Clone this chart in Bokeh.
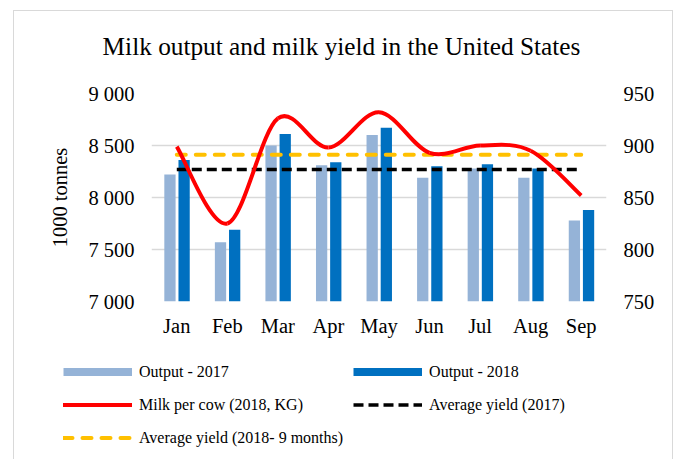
import numpy as np
from bokeh.plotting import figure
from bokeh.layouts import column
from bokeh.models import (LinearAxis, Range1d, FixedTicker, Legend, LegendItem,
                          ColumnDataSource, Label)
from bokeh.embed import file_html
from bokeh.resources import INLINE

# ---- data -------------------------------------------------------------
title_text = "Milk output and milk yield in the United States"
months = ["Jan", "Feb", "Mar", "Apr", "May", "Jun", "Jul", "Aug", "Sep"]
output_2017 = [8220, 7570, 8500, 8310, 8600, 8190, 8280, 8190, 7780]   # 1000 tonnes
output_2018 = [8360, 7690, 8610, 8340, 8670, 8300, 8320, 8280, 7880]   # 1000 tonnes
milk_per_cow_2018 = [899, 825, 926, 898, 932, 893, 900, 895, 852]      # kg
avg_yield_2017 = 877
avg_yield_2018 = 891

left_ticks = [7000, 7500, 8000, 8500, 9000]
left_tick_labels = ["7 000", "7 500", "8 000", "8 500", "9 000"]
right_ticks = [750, 800, 850, 900, 950]

FONT = "Liberation Serif"
C2017 = "#95B3D7"
C2018 = "#0070C0"
RED = "#FF0000"
YELLOW = "#FFC000"
GRID = "#D9D9D9"

W = 658
idx = np.arange(len(months), dtype=float)


def blank_panel(height):
    f = figure(width=W, height=height, output_backend="svg", toolbar_location=None,
               x_axis_type=None, y_axis_type=None, min_border=0,
               x_range=Range1d(0, 1), y_range=Range1d(0, 1))
    f.outline_line_color = None
    f.grid.grid_line_color = None
    f.frame_align = False
    return f


# ---- title panel ------------------------------------------------------
t = blank_panel(59)
t.add_layout(Label(x=327, y=24.5, x_units="screen", y_units="screen", text=title_text,
                   text_align="center", text_baseline="alphabetic",
                   text_font=FONT, text_font_size="25.3px", text_color="black"))

# ---- main chart -------------------------------------------------------
p = figure(width=W, height=276, output_backend="svg", toolbar_location=None,
           x_range=Range1d(-0.5, len(months) - 0.5),
           y_range=Range1d(left_ticks[0], left_ticks[-1]),
           min_border_left=137, min_border_right=66,
           min_border_top=23, min_border_bottom=45)
p.extra_y_ranges = {"yield": Range1d(right_ticks[0], right_ticks[-1])}
p.outline_line_color = None
p.frame_align = False

xa = p.xaxis[0]
xa.ticker = FixedTicker(ticks=list(idx))
xa.major_label_overrides = {float(i): m for i, m in zip(idx, months)}
ya = p.yaxis[0]
ya.ticker = FixedTicker(ticks=left_ticks)
ya.major_label_overrides = dict(zip(left_ticks, left_tick_labels))
ya.axis_label = "1000 tonnes"

ra = LinearAxis(y_range_name="yield", ticker=FixedTicker(ticks=right_ticks))
p.add_layout(ra, "right")

for ax in (xa, ya, ra):
    ax.axis_line_color = None
    ax.major_tick_line_color = None
    ax.minor_tick_line_color = None
    ax.major_tick_out = 0
    ax.major_tick_in = 0
    ax.major_label_text_font = FONT
    ax.major_label_text_font_size = "20.5px"
    ax.major_label_text_color = "black"
xa.major_label_standoff = 13
ya.major_label_standoff = 17
ra.major_label_standoff = 17
ya.axis_label_text_font = FONT
ya.axis_label_text_font_size = "20.5px"
ya.axis_label_text_font_style = "normal"
ya.axis_label_text_color = "black"
ya.axis_label_standoff = 14

p.xgrid.grid_line_color = None
p.ygrid.grid_line_color = GRID
p.ygrid.grid_line_width = 1.3

# bars
bw = 0.223
p.vbar(x=idx - 0.135, top=output_2017, bottom=left_ticks[0], width=bw,
       fill_color=C2017, line_color=None)
p.vbar(x=idx + 0.145, top=output_2018, bottom=left_ticks[0], width=bw,
       fill_color=C2018, line_color=None)

# average yield lines, Jan to Sep
span_x = [idx[0], idx[-1]]
BLACK_STYLE = dict(line_color="black", line_width=3.5, line_dash="10 5")
YELLOW_STYLE = dict(line_color=YELLOW, line_width=4, line_dash="9 10", line_cap="round")
p.line(x=span_x, y=[avg_yield_2017] * 2, y_range_name="yield", **BLACK_STYLE)
p.line(x=span_x, y=[avg_yield_2018] * 2, y_range_name="yield", **YELLOW_STYLE)

# smoothed milk-per-cow curve (Catmull-Rom Bezier segments)
y = np.asarray(milk_per_cow_2018, dtype=float)
xe = np.r_[idx[0], idx, idx[-1]]
ye = np.r_[y[0], y, y[-1]]
n = len(idx)
x0, x1, x2, x3 = xe[0:n - 1], xe[1:n], xe[2:n + 1], xe[3:n + 2]
y0, y1, y2, y3 = ye[0:n - 1], ye[1:n], ye[2:n + 1], ye[3:n + 2]
p.bezier(x0=x1, y0=y1, x1=x2, y1=y2,
         cx0=x1 + (x2 - x0) / 6, cy0=y1 + (y2 - y0) / 6,
         cx1=x2 - (x3 - x1) / 6, cy1=y2 - (y3 - y1) / 6,
         y_range_name="yield", line_color=RED, line_width=4)

# ---- legend panel -----------------------------------------------------
q = blank_panel(113)


def swatch(**style):
    # one off-screen point so the legend draws the swatch, nothing in the panel
    return q.line(x="x", y="y", source=ColumnDataSource(dict(x=[np.nan], y=[np.nan])), **style)


legend = Legend(items=[
    LegendItem(label="Output - 2017", renderers=[swatch(line_color=C2017, line_width=8)]),
    LegendItem(label="Output - 2018", renderers=[swatch(line_color=C2018, line_width=8)]),
    LegendItem(label="Milk per cow (2018, KG)",
               renderers=[swatch(line_color=RED, line_width=4, line_cap="round")]),
    LegendItem(label="Average yield (2017)", renderers=[swatch(**BLACK_STYLE)]),
    LegendItem(label="Average yield (2018- 9 months)", renderers=[swatch(**YELLOW_STYLE)]),
], orientation="horizontal", ncols=2, location=(49, 10))
legend.padding = 0
legend.margin = 0
legend.spacing = 10
legend.glyph_width = 69
legend.glyph_height = 23
legend.label_height = 23
legend.label_standoff = 7
legend.label_text_font = FONT
legend.label_text_font_size = "16px"
legend.label_text_color = "black"
legend.border_line_color = None
legend.background_fill_alpha = 0
q.add_layout(legend, "center")

page = column(t, p, q, margin=(10, 0, 0, 13), spacing=0,
              styles={"border": "1px solid #D9D9D9", "border-bottom": "none"})

open("out.html", "w").write(file_html(page, INLINE))
